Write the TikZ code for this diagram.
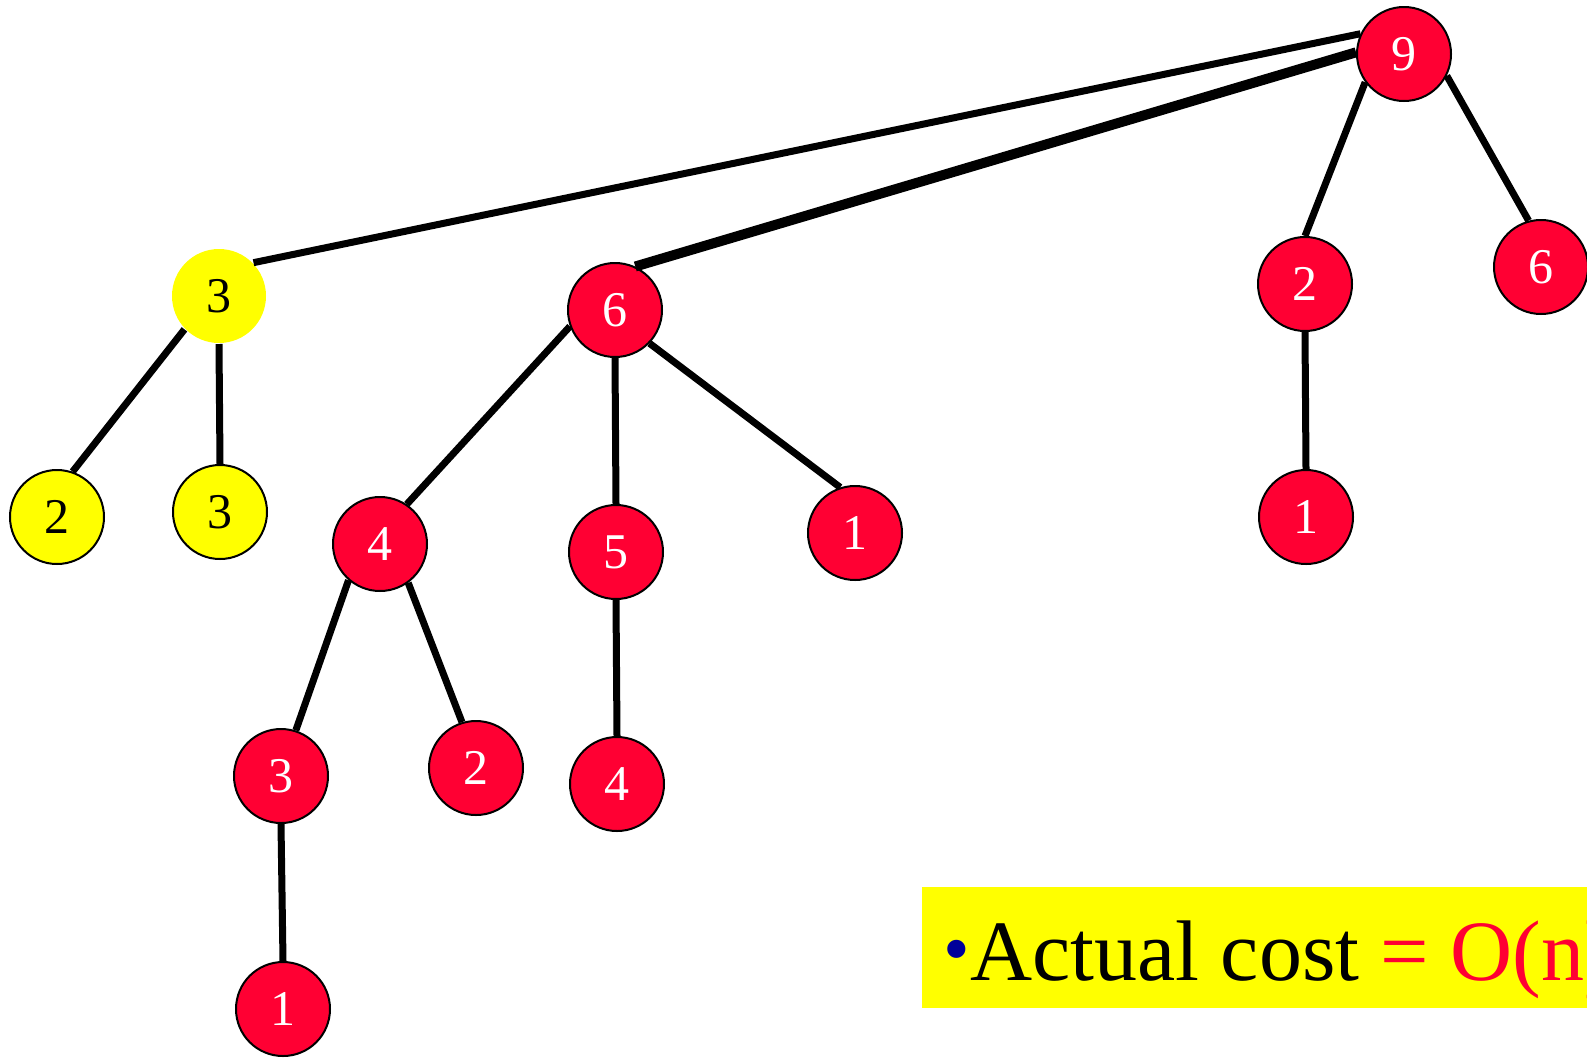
\documentclass[tikz,border=0pt]{standalone}
\usepackage{fontspec}
\setmainfont{Liberation Serif}
\newfontfamily\timesfont{Liberation Serif}
\definecolor{heapred}{HTML}{FF0033}
\definecolor{markyellow}{HTML}{FFFF00}
\definecolor{bulletblue}{HTML}{000099}

\begin{document}
\begin{tikzpicture}[x=1pt, y=-1pt, line width=7pt,
                    node/.style = {draw, circle, fill=heapred, text=white, line width=2pt,
                                   minimum size=94pt, inner sep=0pt,
                                   font=\timesfont\fontsize{50}{50}\selectfont},
                    marked/.style = {node, fill=markyellow, text=black}]
    \useasboundingbox (0,0) rectangle (1587,1058);

    % roots
    \node[node] (r9) at (1404,54) {9};
    \node[marked, draw=none] (y3) at (219,296) {3};
    \node[node] (a6) at (615,310) {6};
    \node[node] (b2) at (1305,284) {2};
    \node[node] (c6) at (1541,267) {6};

    \node[marked] (y2) at (57,517) {2};
    \node[marked] (y3b) at (220,512) {3};
    \node[node] (a4) at (380,544) {4};
    \node[node] (a5) at (616,552) {5};
    \node[node] (a1) at (855,533) {1};
    \node[node] (b1) at (1306,517) {1};

    \node[node] (a3) at (281,776) {3};
    \node[node] (a2) at (476,768) {2};
    \node[node] (a4b) at (617,784) {4};
    \node[node] (a1b) at (283,1009) {1};

    \draw (r9.155) -- (y3.44);
    \draw[line width=10pt] (r9.178) -- (a6.65);
    \draw (r9.216) -- (b2.90);
    \draw (r9.-27) -- (c6.105);
    \draw (y3.224) -- (y2.71);
    \draw (y3.south) -- (y3b.north);
    \draw (a6.200) -- (a4.56);
    \draw (a6.south) -- (a5.north);
    \draw (a6.-44) -- (a1.108);
    \draw (b2.south) -- (b1.north);
    \draw (a4.229) -- (a3.72);
    \draw (a4.-54) -- (a2.107);
    \draw (a5.south) -- (a4b.north);
    \draw (a3.south) -- (a1b.north);

    % cost box
    \fill[markyellow] (922,887) rectangle (1700,1008);
    \node[anchor=base west, inner sep=0pt, font=\timesfont\fontsize{86}{86}\selectfont] (cost) at (940,980)
        {\textcolor{bulletblue}{\fontsize{76}{76}\selectfont\raisebox{6pt}{\textbullet}}Actual cost \textcolor{heapred}{= O(n)}};
\end{tikzpicture}
\end{document}
